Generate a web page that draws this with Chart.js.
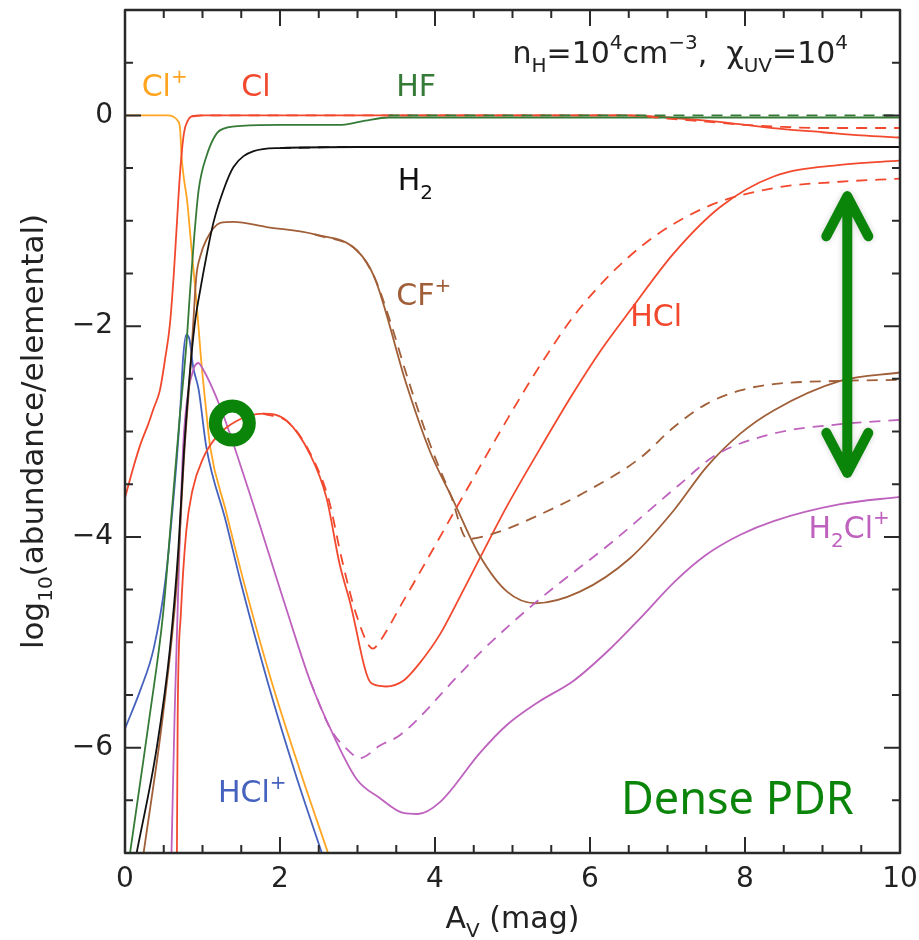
<!DOCTYPE html>
<html>
<head>
<meta charset="utf-8">
<script src="https://cdn.jsdelivr.net/npm/chart.js@4.4.1/dist/chart.umd.min.js"></script>
<style>
  html, body { margin: 0; padding: 0; background: #fff; }
</style>
</head>
<body>
<canvas id="pdr" width="919" height="940"></canvas>
<script>
// PDR chemistry: log10(abundance/elemental) vs A_V, dense PDR model
// solid = one model, dashed = the other one

var xMajor = [0, 2, 4, 6, 8, 10];
var xMinor = [0.5, 1, 1.5, 2.5, 3, 3.5, 4.5, 5, 5.5, 6.5, 7, 7.5, 8.5, 9, 9.5];
var yMajor = [-6, -4, -2, 0];
var yMinor = [-6.5, -5.5, -5, -4.5, -3.5, -3, -2.5, -1.5, -1, -0.5, 0.5];

// Cl+
var clpX = [0, 0.3, 0.55, 0.62, 0.68, 0.71, 0.73, 0.76, 0.80, 0.86, 0.925, 0.98, 1.04, 1.1, 1.3, 1.53, 1.89, 2.25, 2.62];
var clpY = [0, 0, 0, -0.01, -0.05, -0.12, -0.39, -0.6, -0.8, -1.28, -1.79, -2.3, -2.75, -3.15, -3.75, -4.42, -5.37, -6.2, -7.0];

// Cl
var clX = [0, 0.1, 0.2, 0.3, 0.37, 0.45, 0.52, 0.58, 0.63, 0.67, 0.71, 0.76, 0.81, 0.86, 1.0, 6.5, 7.0, 7.5, 8.0, 8.5, 9.0, 9.5, 10];
var clY = [-3.63, -3.36, -3.12, -2.93, -2.78, -2.61, -2.3, -1.98, -1.5, -1.02, -0.55, -0.17, -0.05, -0.01, 0, 0, -0.02, -0.05, -0.09, -0.13, -0.16, -0.19, -0.21];
var clDashX = [0.86, 1.0, 6.5, 7.0, 7.5, 8.0, 8.5, 9.0, 9.5, 10];
var clDashY = [-0.01, 0, 0, -0.03, -0.06, -0.09, -0.11, -0.12, -0.12, -0.12];

// HF
var hfX = [0.065, 0.2, 0.32, 0.49, 0.6, 0.71, 0.76, 0.80, 0.84, 0.89, 0.95, 1.05, 1.23, 1.5, 2.0, 2.8, 3.1, 3.4, 4.0, 10];
var hfY = [-7, -6.31, -5.69, -4.74, -3.79, -2.83, -2.45, -2.1, -1.66, -1.18, -0.71, -0.39, -0.14, -0.1, -0.09, -0.09, -0.05, -0.02, -0.02, -0.02];
var hfDashX = [3.4, 4.0, 10];
var hfDashY = [0, 0, 0];

// H2
var h2X = [0.15, 0.41, 0.58, 0.69, 0.76, 0.83, 0.90, 0.97, 1.05, 1.14, 1.27, 1.40, 1.66, 2.0, 3.0, 10];
var h2Y = [-7, -6.0, -5.06, -4.1, -3.2, -2.5, -1.98, -1.66, -1.34, -1.02, -0.71, -0.49, -0.34, -0.31, -0.3, -0.3];
var h2DashX = [2.0, 3.0, 10];
var h2DashY = [-0.31, -0.3, -0.3];

// CF+
var cfX = [0.24, 0.49, 0.67, 0.77, 0.84, 0.88, 0.92, 0.97, 1.05, 1.23, 1.4, 1.83, 2.45, 2.99, 3.22, 3.63, 3.93, 4.24, 4.57, 4.93, 5.3, 5.87, 6.52, 7.08, 7.5, 7.94, 8.37, 9.23, 10];
var cfY = [-7, -5.69, -4.42, -3.15, -2.45, -1.98, -1.53, -1.34, -1.18, -1.02, -1.01, -1.06, -1.13, -1.28, -1.54, -2.55, -3.18, -3.66, -4.17, -4.52, -4.63, -4.52, -4.2, -3.75, -3.34, -3.02, -2.8, -2.52, -2.44];
var cfDashX = [2.45, 2.99, 3.22, 3.42, 3.65, 3.95, 4.2, 4.42, 4.75, 5.35, 6.0, 6.65, 7.08, 7.5, 7.94, 8.37, 9.23, 10];
var cfDashY = [-1.13, -1.28, -1.54, -1.95, -2.5, -3.15, -3.6, -4.02, -3.97, -3.79, -3.55, -3.25, -2.96, -2.74, -2.61, -2.55, -2.52, -2.51];

// HCl
var hclX = [0.67, 0.68, 0.72, 0.79, 0.87, 1.01, 1.17, 1.44, 1.78, 2.09, 2.39, 2.6, 2.77, 2.9, 3.18, 3.37, 3.6, 3.8, 4.06, 4.3, 4.58, 4.92, 5.35, 5.78, 6.15, 6.52, 7.08, 7.68, 8.37, 9.23, 10];
var hclY = [-7, -5.69, -4.74, -3.95, -3.56, -3.25, -3.06, -2.9, -2.83, -2.9, -3.22, -3.63, -4.26, -4.61, -5.39, -5.42, -5.36, -5.2, -4.93, -4.6, -4.2, -3.72, -3.17, -2.64, -2.22, -1.85, -1.31, -0.87, -0.58, -0.47, -0.43];
var hclDashX = [1.78, 2.12, 2.42, 2.63, 2.8, 2.99, 3.2, 3.29, 3.59, 3.81, 4.45, 5.0, 5.35, 5.87, 6.65, 7.5, 8.37, 9.23, 10];
var hclDashY = [-2.83, -2.92, -3.25, -3.65, -4.22, -4.75, -5.06, -4.99, -4.61, -4.33, -3.5, -2.8, -2.38, -1.83, -1.25, -0.87, -0.69, -0.63, -0.6];

// H2Cl+
var h2clX = [0.60, 0.64, 0.69, 0.75, 0.82, 0.86, 0.9, 0.945, 1.0, 1.23, 1.57, 2.08, 2.39, 2.65, 2.99, 3.29, 3.59, 3.78, 4.06, 4.58, 4.92, 5.35, 5.78, 6.22, 6.65, 7.1, 7.5, 7.94, 8.37, 9.23, 10];
var h2clY = [-7, -5.69, -4.42, -3.15, -2.6, -2.47, -2.38, -2.35, -2.4, -2.77, -3.5, -4.68, -5.37, -5.82, -6.3, -6.48, -6.62, -6.63, -6.52, -6.05, -5.79, -5.56, -5.37, -5.09, -4.77, -4.42, -4.17, -3.98, -3.85, -3.69, -3.62];
var h2clDashX = [2.39, 2.65, 2.9, 3.03, 3.29, 3.55, 4.32, 4.58, 5.27, 6.3, 7.16, 7.63, 8.37, 9.23, 10];
var h2clDashY = [-5.37, -5.82, -6.04, -6.1, -5.98, -5.88, -5.3, -5.1, -4.64, -4.04, -3.5, -3.22, -3.02, -2.93, -2.89];

// HCl+
var hclpX = [0, 0.2, 0.37, 0.52, 0.645, 0.71, 0.75, 0.79, 0.83, 0.88, 0.95, 1.05, 1.3, 1.5, 1.85, 2.2, 2.54];
var hclpY = [-5.82, -5.45, -5.06, -4.42, -3.47, -2.83, -2.3, -2.08, -2.12, -2.39, -2.6, -3.15, -3.85, -4.45, -5.4, -6.25, -7.0];

// highlight marks
var ringX = [1.385];
var ringY = [-2.92];
var arrowX = 9.32, arrowTop = -0.72, arrowBottom = -3.44;

var ORANGE = '#FFA521', RED = '#F2492E', GREEN = '#367A38', BROWN = '#A05F38',
    MAGENTA = '#BE62BE', BLUE = '#4563BE', BLACK = '#111111', ACCENT = '#0A850A';
var FONT = "'DejaVu Sans', sans-serif";

function pts(xs, ys) {
  return xs.map(function(x, i) { return {x: x, y: ys[i]}; });
}

function curve(xs, ys, color, dashed) {
  return {
    data: pts(xs, ys),
    borderColor: color,
    borderWidth: 1.8,
    borderDash: dashed ? [11, 8] : [],
    pointRadius: 0,
    fill: false,
    cubicInterpolationMode: 'monotone'
  };
}

// rich text: parts = [[text, 'n'|'sub'|'sup'], ...]
function richWidth(ctx, parts, size) {
  var w = 0;
  parts.forEach(function(p) {
    ctx.font = (p[1] == 'n' ? size : Math.round(size * 0.65)) + 'px ' + FONT;
    w += ctx.measureText(p[0]).width;
  });
  return w;
}
function richText(ctx, parts, x, y, size, align) {
  var w = richWidth(ctx, parts, size);
  var cx = align == 'right' ? x - w : (align == 'center' ? x - w / 2 : x);
  ctx.textBaseline = 'alphabetic';
  ctx.textAlign = 'left';
  parts.forEach(function(p) {
    var s = p[1] == 'n' ? size : Math.round(size * 0.65);
    var dy = p[1] == 'sub' ? size * 0.3 : (p[1] == 'sup' ? -size * 0.45 : 0);
    ctx.font = s + 'px ' + FONT;
    ctx.fillText(p[0], cx, y + dy);
    cx += ctx.measureText(p[0]).width;
  });
}

var labels = [
  {x: 0.215, y: 0.18, c: ORANGE, t: [['Cl', 'n'], ['+', 'sup']]},
  {x: 1.5, y: 0.18, c: RED, t: [['Cl', 'n']]},
  {x: 3.5, y: 0.18, c: GREEN, t: [['HF', 'n']]},
  {x: 3.52, y: -0.71, c: BLACK, t: [['H', 'n'], ['2', 'sub']]},
  {x: 3.5, y: -1.8, c: BROWN, t: [['CF', 'n'], ['+', 'sup']]},
  {x: 6.52, y: -2.0, c: RED, t: [['HCl', 'n']]},
  {x: 8.82, y: -4.01, c: MAGENTA, t: [['H', 'n'], ['2', 'sub'], ['Cl', 'n'], ['+', 'sup']]},
  {x: 1.2, y: -6.52, c: BLUE, t: [['HCl', 'n'], ['+', 'sup']]}
];

var decor = {
  id: 'decor',
  afterDatasetsDraw: function(chart) {
    var ctx = chart.ctx, a = chart.chartArea;
    var xs = chart.scales.x, ys = chart.scales.y;
    ctx.save();

    // species labels
    labels.forEach(function(l) {
      ctx.fillStyle = l.c;
      richText(ctx, l.t, xs.getPixelForValue(l.x), ys.getPixelForValue(l.y), 30, 'left');
    });

    // model parameters
    ctx.fillStyle = '#222';
    richText(ctx, [['n', 'n'], ['H', 'sub'], ['=10', 'n'], ['4', 'sup'], ['cm', 'n'], ['\u22123', 'sup'],
                   [',  \u03C7', 'n'], ['UV', 'sub'], ['=10', 'n'], ['4', 'sup']],
             xs.getPixelForValue(9.33), ys.getPixelForValue(0.5), 30, 'right');

    // Dense PDR
    ctx.fillStyle = ACCENT;
    ctx.font = "45px 'Comic Sans MS', 'Noto Sans', sans-serif";
    ctx.textAlign = 'left';
    ctx.fillText('Dense PDR', xs.getPixelForValue(6.4), ys.getPixelForValue(-6.63));

    // double arrow
    var ax = xs.getPixelForValue(arrowX), t = ys.getPixelForValue(arrowTop) + 5, b = ys.getPixelForValue(arrowBottom) - 5;
    ctx.strokeStyle = ACCENT;
    ctx.lineWidth = 10;
    ctx.lineCap = 'round';
    ctx.lineJoin = 'round';
    ctx.shadowColor = 'rgba(0,0,0,0.18)';
    ctx.shadowBlur = 6;
    ctx.beginPath();
    ctx.moveTo(ax, t); ctx.lineTo(ax, b);
    ctx.moveTo(ax - 21, t + 40); ctx.lineTo(ax, t); ctx.lineTo(ax + 21, t + 40);
    ctx.moveTo(ax - 21, b - 40); ctx.lineTo(ax, b); ctx.lineTo(ax + 21, b - 40);
    ctx.stroke();
    ctx.shadowBlur = 0;
    ctx.shadowColor = 'rgba(0,0,0,0)';

    // frame and inward ticks on all sides
    ctx.strokeStyle = '#2a2a2a';
    ctx.lineCap = 'butt';
    ctx.lineWidth = 2.5;
    ctx.strokeRect(a.left, a.top, a.right - a.left, a.bottom - a.top);
    ctx.lineWidth = 2;
    ctx.beginPath();
    function tx(v, len) {
      var p = xs.getPixelForValue(v);
      ctx.moveTo(p, a.bottom); ctx.lineTo(p, a.bottom - len);
      ctx.moveTo(p, a.top); ctx.lineTo(p, a.top + len);
    }
    function ty(v, len) {
      var p = ys.getPixelForValue(v);
      ctx.moveTo(a.left, p); ctx.lineTo(a.left + len, p);
      ctx.moveTo(a.right, p); ctx.lineTo(a.right - len, p);
    }
    xMajor.forEach(function(v) { tx(v, 16); });
    xMinor.forEach(function(v) { tx(v, 8); });
    yMajor.forEach(function(v) { ty(v, 16); });
    yMinor.forEach(function(v) { ty(v, 8); });
    ctx.stroke();

    // axis titles
    ctx.fillStyle = '#222';
    richText(ctx, [['A', 'n'], ['V', 'sub'], [' (mag)', 'n']], (a.left + a.right) / 2, 928, 30, 'center');
    ctx.translate(43, (a.top + a.bottom) / 2);
    ctx.rotate(-Math.PI / 2);
    richText(ctx, [['log', 'n'], ['10', 'sub'], ['(abundance/elemental)', 'n']], 0, 0, 31, 'center');
    ctx.restore();
  }
};

var datasets = [
  {
    data: pts(ringX, ringY),
    showLine: false,
    pointRadius: 17,
    pointBorderWidth: 13,
    pointBorderColor: ACCENT,
    pointBackgroundColor: 'rgba(0,0,0,0)'
  },
  curve(hfDashX, hfDashY, GREEN, true),
  curve(clDashX, clDashY, RED, true),
  curve(h2DashX, h2DashY, BLACK, true),
  curve(cfDashX, cfDashY, BROWN, true),
  curve(hclDashX, hclDashY, RED, true),
  curve(h2clDashX, h2clDashY, MAGENTA, true),
  curve(hfX, hfY, GREEN, false),
  curve(clX, clY, RED, false),
  curve(h2X, h2Y, BLACK, false),
  curve(cfX, cfY, BROWN, false),
  curve(hclX, hclY, RED, false),
  curve(h2clX, h2clY, MAGENTA, false),
  curve(clpX, clpY, ORANGE, false),
  curve(hclpX, hclpY, BLUE, false)
];

new Chart(document.getElementById('pdr'), {
  type: 'line',
  data: { datasets: datasets },
  plugins: [decor],
  options: {
    responsive: false,
    animation: false,
    events: [],
    layout: { autoPadding: false, padding: { top: 10, right: 19, left: 0, bottom: 0 } },
    plugins: { legend: { display: false }, tooltip: { enabled: false } },
    scales: {
      x: {
        type: 'linear',
        min: 0, max: 10,
        grid: { display: false, drawTicks: false },
        border: { display: false },
        afterBuildTicks: function(scale) { scale.ticks = xMajor.map(function(v) { return {value: v}; }); },
        afterFit: function(scale) {
          scale.height = 87;
          scale.paddingLeft = 0; scale.paddingRight = 0;
        },
        ticks: { color: '#222', padding: 10, maxRotation: 0, font: { family: 'DejaVu Sans', size: 28 } }
      },
      y: {
        type: 'linear',
        min: -7, max: 1,
        grid: { display: false, drawTicks: false },
        border: { display: false },
        afterBuildTicks: function(scale) { scale.ticks = yMajor.map(function(v) { return {value: v}; }); },
        afterFit: function(scale) {
          scale.width = 125;
          scale.paddingTop = 0; scale.paddingBottom = 0;
        },
        ticks: {
          color: '#222', padding: 12, font: { family: 'DejaVu Sans', size: 28 },
          callback: function(v) { return v < 0 ? '\u2212' + Math.abs(v) : String(v); }
        }
      }
    }
  }
});
</script>
</body>
</html>
